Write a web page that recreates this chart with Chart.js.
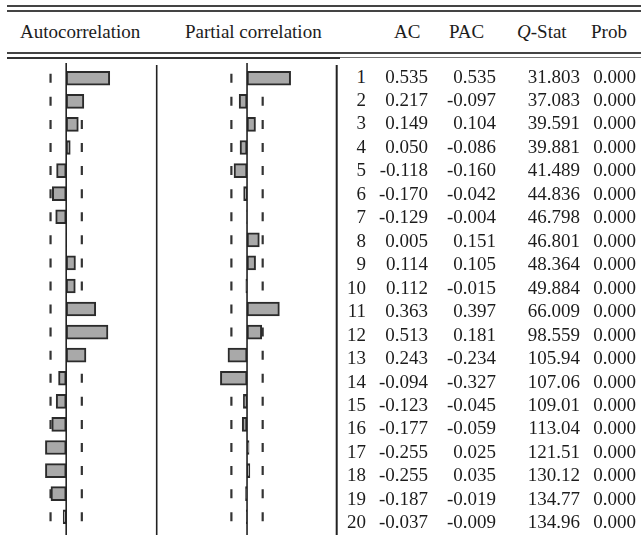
<!DOCTYPE html>
<html><head><meta charset="utf-8">
<script src="https://cdn.jsdelivr.net/npm/chart.js@4.4.1/dist/chart.umd.min.js"></script>
<style>
html,body{margin:0;padding:0;background:#fff;}
body{width:641px;height:535px;position:relative;overflow:hidden;font-family:"Liberation Serif","Times New Roman",serif;color:#1c1c1c;}
.rule{position:absolute;background:#444;}
.h{position:absolute;top:21px;font-size:19px;line-height:22px;white-space:nowrap;}
.cell{position:absolute;font-size:19px;line-height:22px;white-space:nowrap;text-align:right;}
canvas{position:absolute;}
</style></head>
<body>
<div class="rule" style="left:7px;top:5px;width:634px;height:1.5px"></div>
<div class="rule" style="left:7px;top:10px;width:634px;height:1.5px"></div>
<div class="rule" style="left:7px;top:52px;width:634px;height:1.5px"></div>
<div class="rule" style="left:7px;top:57px;width:333px;height:2px;background:#333"></div>
<div class="rule" style="left:340px;top:57px;width:301px;height:1.3px;background:#777"></div>
<div class="h" style="left:20px">Autocorrelation</div>
<div class="h" style="left:185px">Partial correlation</div>
<div class="h" style="left:394px">AC</div>
<div class="h" style="left:449px">PAC</div>
<div class="h" style="left:517px"><i>Q</i>-Stat</div>
<div class="h" style="left:591px">Prob</div>
<canvas id="acf" width="158" height="475" style="left:0;top:60px"></canvas>
<canvas id="pac" width="181" height="475" style="left:157px;top:60px"></canvas>
<div id="table"></div>
<script>
const lags = ['1','2','3','4','5','6','7','8','9','10','11','12','13','14','15','16','17','18','19','20'];
const acValues = [0.535,0.217,0.149,0.050,-0.118,-0.170,-0.129,0.005,0.114,0.112,0.363,0.513,0.243,-0.094,-0.123,-0.177,-0.255,-0.255,-0.187,-0.037];
const pacValues = [0.535,-0.097,0.104,-0.086,-0.160,-0.042,-0.004,0.151,0.105,-0.015,0.397,0.181,-0.234,-0.327,-0.045,-0.059,0.025,0.035,-0.019,-0.009];
const qStats = ['31.803','37.083','39.591','39.881','41.489','44.836','46.798','46.801','48.364','49.884','66.009','98.559','105.94','107.06','109.01','113.04','121.51','130.12','134.77','134.96'];
const probs = ['0.000','0.000','0.000','0.000','0.000','0.000','0.000','0.000','0.000','0.000','0.000','0.000','0.000','0.000','0.000','0.000','0.000','0.000','0.000','0.000'];
const bound = 0.192;

const panelLines = {
  id:'panelLines',
  afterDatasetsDraw(chart, args, opts){
    const ctx = chart.ctx, xs = chart.scales.x;
    ctx.save();
    ctx.strokeStyle = '#222';
    ctx.lineWidth = 1.6;
    const z = xs.getPixelForValue(0);
    ctx.beginPath(); ctx.moveTo(z, opts.zeroTop); ctx.lineTo(z, chart.height); ctx.stroke();
    ctx.lineWidth = opts.sepWidth;
    ctx.beginPath(); ctx.moveTo(opts.sep, opts.sepTop); ctx.lineTo(opts.sep, chart.height); ctx.stroke();
    ctx.restore();
  }
};

function makePanel(id, values, min, max, sep, sepWidth){
  const dashPts = [];
  lags.forEach(l => { dashPts.push({x:-bound, y:l}); dashPts.push({x:bound, y:l}); });
  return new Chart(document.getElementById(id), {
    type:'bar',
    data:{
      labels: lags,
      datasets:[
        {type:'bar', data: values, backgroundColor:'#a9a9a9', borderColor:'#2b2b2b', borderWidth:2,
         borderSkipped:false, barThickness:14, order:1},
        {type:'scatter', data: dashPts, pointStyle:'line', rotation:90, radius:4.5, borderWidth:2.2,
         borderColor:'#333', backgroundColor:'#333', showLine:false, order:2}
      ]
    },
    options:{
      indexAxis:'y', responsive:false, animation:false, devicePixelRatio:1,
      layout:{padding:{top:5.8, left:0, right:0, bottom:0}},
      plugins:{legend:{display:false}, tooltip:{enabled:false},
        panelLines:{zeroTop:3, sep:sep, sepTop:5, sepWidth:sepWidth}},
      scales:{
        x:{type:'linear', min:min, max:max, display:false},
        y:{type:'category', labels:lags, display:false, offset:true}
      }
    },
    plugins:[panelLines]
  });
}
makePanel('acf', acValues, -65/89, -65/89 + 158/89, 156.7, 1.6);
makePanel('pac', pacValues, -90/88, -90/88 + 181/88, 179.7, 2.0);

// table text
const tbl = document.getElementById('table');
const rowH = 469.2/20;
const cols = [
  {vals: lags, right: 366},
  {vals: acValues.map(v => v.toFixed(3)), right: 428},
  {vals: pacValues.map(v => v.toFixed(3)), right: 496},
  {vals: qStats, right: 580},
  {vals: probs, right: 636}
];
lags.forEach((l, i) => {
  const cy = 60 + 5.8 + (i + 0.5) * rowH;
  cols.forEach(c => {
    const d = document.createElement('div');
    d.className = 'cell';
    d.style.top = (cy - 12) + 'px';
    d.style.right = (641 - c.right) + 'px';
    d.textContent = c.vals[i];
    tbl.appendChild(d);
  });
});
</script>
</body></html>
